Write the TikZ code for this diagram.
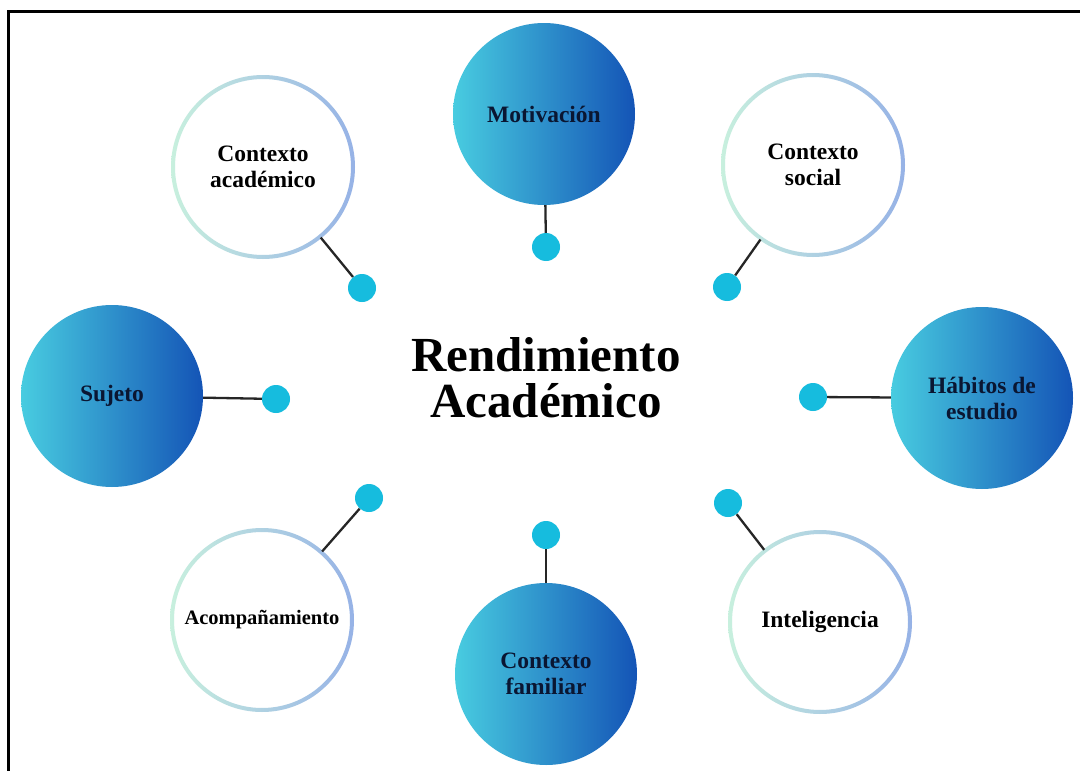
\documentclass[tikz,border=0pt]{standalone}
\usepackage{fontspec}
\setmainfont{Liberation Serif}
\definecolor{fillL}{RGB}{72,204,224}
\definecolor{fillR}{RGB}{20,84,182}
\definecolor{navy}{RGB}{10,22,50}
\definecolor{ringL}{RGB}{200,240,222}
\definecolor{ringR}{RGB}{150,178,230}
\definecolor{dotc}{RGB}{22,188,222}
\tikzset{
  lbl/.style={font=\bfseries\fontsize{23.5}{26}\selectfont, align=center},
  filledc/.style={lbl, circle, minimum size=182pt, inner sep=0pt, left color=fillL, right color=fillR, text=navy},
  ringc/.style={lbl, circle, minimum size=182pt, inner sep=0pt, text=black},
  cdot/.style={circle, minimum size=28pt, inner sep=0pt, fill=dotc},
  link/.style={line width=2.3pt, black!85},
  ring/.style={left color=ringL, right color=ringR, even odd rule}
}
\begin{document}
\begin{tikzpicture}[x=1pt,y=-1pt]
\useasboundingbox (0,0) rectangle (1080,771);
\fill[white] (0,0) rectangle (1080,771);
% frame (top and left edges visible)
\draw[line width=3pt, black] (8,771) -- (8,11) -- (1080,11);

% outline circles
\node[ringc] (ca) at (263,167) {Contexto\\académico};
\node[ringc] (cs) at (813,165) {Contexto\\social};
\node[ringc] (ac) at (262,620) {\fontsize{20.5}{23}\selectfont Acompañamiento};
\node[ringc] (in) at (820,622) {Inteligencia};
\foreach \n in {ca,cs,ac,in}{
  \shade[ring] (\n.center) circle (92pt) (\n.center) circle (88pt);
}

% filled circles
\node[filledc] (mo) at (544,114) {Motivación};
\node[filledc] (su) at (112,396) {Sujeto};
\node[filledc] (hb) at (982,398) {Hábitos de\\estudio};
\node[filledc] (cf) at (546,674) {Contexto\\familiar};

% dots
\node[cdot] (d1) at (362,288) {};
\node[cdot] (d2) at (546,247) {};
\node[cdot] (d3) at (727,287) {};
\node[cdot] (d4) at (276,399) {};
\node[cdot] (d5) at (813,397) {};
\node[cdot] (d6) at (369,498) {};
\node[cdot] (d7) at (546,535) {};
\node[cdot] (d8) at (728,503) {};

% connectors
\draw[link] (d1) -- (ca);
\draw[link] (d2) -- (mo);
\draw[link] (d3) -- (cs);
\draw[link] (d4) -- (su);
\draw[link] (d5) -- (hb);
\draw[link] (d6) -- (ac);
\draw[link] (d7) -- (cf);
\draw[link] (d8) -- (in);

% title
\node[font=\bfseries\fontsize{49}{46}\selectfont, align=center] (title) at (546,378) {Rendimiento\\Académico};
\end{tikzpicture}
\end{document}
